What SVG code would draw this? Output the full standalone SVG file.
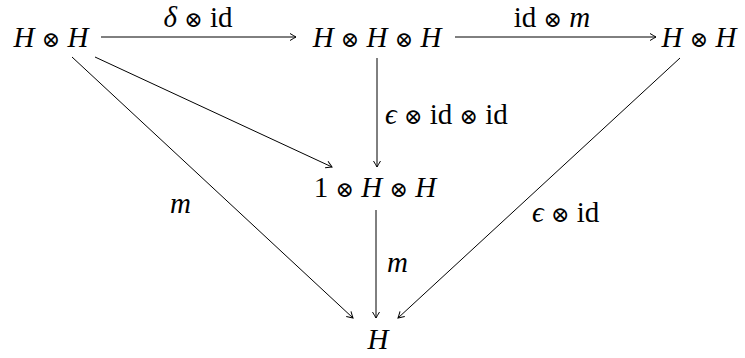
<svg xmlns="http://www.w3.org/2000/svg" width="745" height="358" viewBox="0 0 745 358" font-family="'Liberation Serif', 'DejaVu Serif', serif">
<style>
text{font-family:'Liberation Serif','DejaVu Serif',serif;font-size:29px;fill:#000}
.i{font-style:italic}
.c{text-anchor:middle}
.o{font-family:'DejaVu Serif',serif;font-size:22px}
.e{stroke:#000;stroke-width:1;fill:none}
</style>
<defs>
<marker id="a" viewBox="-8 -5 10 10" markerWidth="10" markerHeight="10" refX="0" refY="0" orient="auto" markerUnits="userSpaceOnUse">
<path d="M-6,-3.5 Q-1.5,-0.8 0,0 Q-1.5,0.8 -6,3.5" stroke="#000" stroke-width="1" fill="none"/>
</marker>
</defs>
<rect width="745" height="358" fill="#fff"/>
<g id="connectors">
<line class="e" x1="101" y1="37" x2="296" y2="37" marker-end="url(#a)"/>
<line class="e" x1="455" y1="37" x2="656" y2="37" marker-end="url(#a)"/>
<line class="e" x1="377" y1="58" x2="377" y2="167" marker-end="url(#a)"/>
<line class="e" x1="376" y1="210" x2="376" y2="318" marker-end="url(#a)"/>
<line class="e" x1="72" y1="57" x2="353" y2="318" marker-end="url(#a)"/>
<line class="e" x1="95" y1="57" x2="332" y2="167" marker-end="url(#a)"/>
<line class="e" x1="680" y1="58" x2="398" y2="318" marker-end="url(#a)"/>
<text x="198" y="27" class="c"><tspan class="i">δ</tspan> <tspan class="o">⊗</tspan> id</text>
<text x="552" y="27" class="c">id <tspan class="o">⊗</tspan> <tspan class="i">m</tspan></text>
<text x="385" y="124"><tspan class="i">ϵ</tspan> <tspan class="o">⊗</tspan> id <tspan class="o">⊗</tspan> id</text>
<text x="170" y="213" class="i">m</text>
<text x="387" y="272" class="i">m</text>
<text x="532" y="222"><tspan class="i">ϵ</tspan> <tspan class="o">⊗</tspan> id</text>
</g>
<g id="n1"><text x="51" y="47" class="c"><tspan class="i">H</tspan> <tspan class="o">⊗</tspan> <tspan class="i">H</tspan></text></g>
<g id="n2"><text x="377" y="47" class="c"><tspan class="i">H</tspan> <tspan class="o">⊗</tspan> <tspan class="i">H</tspan> <tspan class="o">⊗</tspan> <tspan class="i">H</tspan></text></g>
<g id="n3"><text x="699" y="47" class="c"><tspan class="i">H</tspan> <tspan class="o">⊗</tspan> <tspan class="i">H</tspan></text></g>
<g id="n4"><text x="375" y="197" class="c">1 <tspan class="o">⊗</tspan> <tspan class="i">H</tspan> <tspan class="o">⊗</tspan> <tspan class="i">H</tspan></text></g>
<g id="n5"><text x="378" y="349" class="c i">H</text></g>
</svg>
